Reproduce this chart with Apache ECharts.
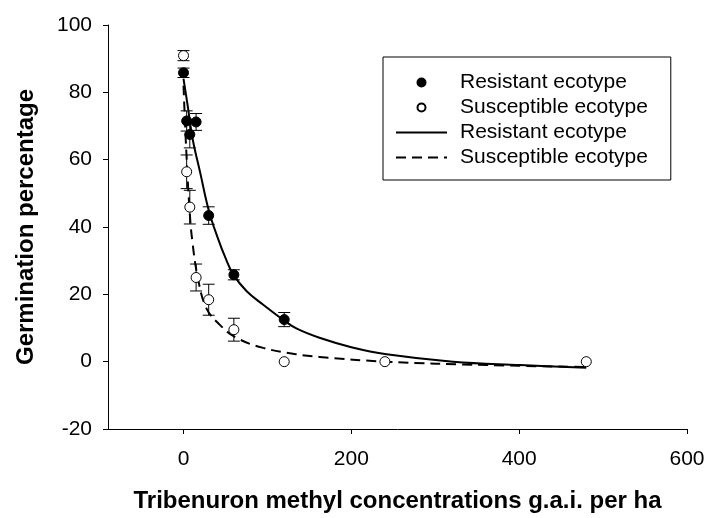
<!DOCTYPE html>
<html>
<head>
<meta charset="utf-8">
<script src="https://cdn.jsdelivr.net/npm/echarts@6/dist/echarts.min.js"></script>
<style>
  html, body { margin: 0; padding: 0; background: #fff; }
  #chart { width: 708px; height: 518px; }
</style>
</head>
<body>
<div id="chart"></div>
<script>
// doses (g a.i. per ha)
const doses = [0, 3.75, 7.5, 15, 30, 60, 120, 240, 480];

// observed means and standard errors
const resistantMean = [85.8, 71.5, 67.5, 71.2, 43.4, 25.8, 12.5];
const resistantSE = [1.4, 3, 4, 2.5, 2.6, 1.5, 2.1];
const susceptibleMean = [90.9, 56.4, 45.9, 25, 18.4, 9.5, 0, 0, 0];
const susceptibleSE = [1.5, 5, 5, 4, 4.6, 3.4, 0, 0, 0];

// fitted curves
const resistantFitX = [0, 5, 11, 20, 30, 41, 50, 59, 75, 95, 120, 135, 162, 200, 242, 321, 401, 480];
const resistantFitY = [84, 76, 66, 56, 45, 36.6, 30.8, 26, 21, 16.9, 12.2, 9.8, 7.1, 4.3, 2.2, 0, -1, -1.8];
const susceptibleFitX = [0, 3.2, 7.2, 10.4, 17, 27, 43, 63, 95, 134, 162, 242, 361, 480];
const susceptibleFitY = [82, 63, 45, 36, 25, 16, 11, 7.1, 4.1, 2.2, 1.4, 0, -1, -1.6];

const xTicks = [0, 200, 400, 600];

const font = 'Liberation Sans, Arial, sans-serif';

function pairs(xs, ys) {
    return ys.map((y, i) => [xs[i], y]);
}
function errorData(means, se) {
    let out = [];
    means.forEach((m, i) => {
        if (se[i] > 0) out.push([doses[i], m - se[i], m + se[i]]);
    });
    return out;
}

function renderError(params, api) {
    let x = api.value(0);
    let lo = api.coord([x, api.value(1)]);
    let hi = api.coord([x, api.value(2)]);
    let hw = 6;
    let style = { stroke: '#000', lineWidth: 1 };
    return {
        type: 'group',
        children: [
            { type: 'line', shape: { x1: lo[0], y1: lo[1], x2: hi[0], y2: hi[1] }, style: style },
            { type: 'line', shape: { x1: lo[0] - hw, y1: lo[1], x2: lo[0] + hw, y2: lo[1] }, style: style },
            { type: 'line', shape: { x1: hi[0] - hw, y1: hi[1], x2: hi[0] + hw, y2: hi[1] }, style: style }
        ]
    };
}

let chart = echarts.init(document.getElementById('chart'));
chart.setOption({
    animation: false,
    textStyle: { fontFamily: font, color: '#000' },
    grid: { left: 108, right: 21, top: 25, bottom: 86 },
    legend: {
        data: [
            'Resistant ecotype',
            'Susceptible ecotype',
            { name: 'Resistant ecotype ', itemStyle: { opacity: 0 } },
            { name: 'Susceptible ecotype ', itemStyle: { opacity: 0 } }
        ],
        orient: 'vertical',
        left: 383,
        top: 57,
        padding: [13, 17, 10, 12],
        itemGap: 0,
        itemWidth: 51,
        itemHeight: 8,
        borderColor: '#000',
        borderWidth: 1,
        borderRadius: 0,
        selectedMode: false,
        textStyle: { fontFamily: font, fontSize: 21, color: '#000', lineHeight: 25, padding: [0, 0, 0, 8] }
    },
    xAxis: {
        type: 'value',
        min: -90,
        max: 600,
        name: 'Tribenuron methyl concentrations g.a.i. per ha',
        nameLocation: 'middle',
        nameGap: 60,
        nameTextStyle: { fontFamily: font, fontSize: 24, fontWeight: 'bold', color: '#000' },
        axisLine: { onZero: false, lineStyle: { color: '#000', width: 1 } },
        axisTick: { show: true, length: 5, customValues: xTicks, lineStyle: { color: '#000' } },
        axisLabel: { customValues: xTicks, margin: 20, fontSize: 21, color: '#000', fontFamily: font },
        splitLine: { show: false }
    },
    yAxis: {
        type: 'value',
        min: -20,
        max: 100,
        interval: 20,
        name: 'Germination percentage',
        nameLocation: 'middle',
        nameGap: 70,
        nameTextStyle: { fontFamily: font, fontSize: 24, fontWeight: 'bold', color: '#000' },
        axisLine: { show: true, onZero: false, lineStyle: { color: '#000', width: 1 } },
        axisTick: { show: true, length: 5, lineStyle: { color: '#000' } },
        axisLabel: { margin: 16, fontSize: 21, color: '#000', fontFamily: font },
        splitLine: { show: false }
    },
    series: [
        {
            name: 'resistantErr',
            type: 'custom',
            renderItem: renderError,
            data: errorData(resistantMean, resistantSE),
            z: 1
        },
        {
            name: 'susceptibleErr',
            type: 'custom',
            renderItem: renderError,
            data: errorData(susceptibleMean, susceptibleSE),
            z: 1
        },
        {
            name: 'Resistant ecotype ',
            type: 'line',
            data: pairs(resistantFitX, resistantFitY),
            smooth: 0.4,
            symbol: 'none',
            lineStyle: { color: '#000', width: 2 },
            itemStyle: { color: '#000' },
            z: 2
        },
        {
            name: 'Susceptible ecotype ',
            type: 'line',
            data: pairs(susceptibleFitX, susceptibleFitY),
            smooth: 0.4,
            symbol: 'none',
            lineStyle: { color: '#000', width: 2, type: [10, 6] },
            itemStyle: { color: '#000' },
            z: 2
        },
        {
            name: 'Resistant ecotype',
            type: 'scatter',
            data: pairs(doses, resistantMean),
            symbol: 'circle',
            symbolSize: 10,
            itemStyle: { color: '#000', borderColor: '#000', borderWidth: 1, opacity: 1 },
            z: 3
        },
        {
            name: 'Susceptible ecotype',
            type: 'scatter',
            data: pairs(doses, susceptibleMean),
            symbol: 'circle',
            symbolSize: 10,
            itemStyle: { color: '#fff', borderColor: '#000', borderWidth: 1, opacity: 1 },
            z: 4
        }
    ]
});
</script>
</body>
</html>
